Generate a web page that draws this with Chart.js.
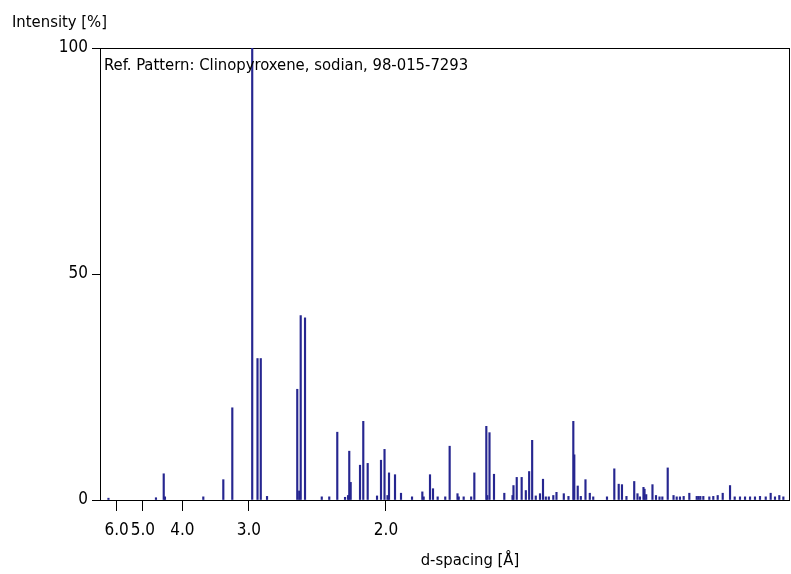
<!DOCTYPE html>
<html>
<head>
<meta charset="utf-8">
<script src="https://cdn.jsdelivr.net/npm/chart.js@4/dist/chart.umd.min.js"></script>
<style>
  html, body { margin: 0; padding: 0; background: #fff; }
  #wrap { width: 791px; height: 574px; }
</style>
</head>
<body>
<div id="wrap"><canvas id="chart-ref-pattern" width="791" height="574"></canvas></div>
<script>
// reference pattern sticks, position in degrees 2theta (Cu K-alpha) and relative intensity
const peak2Theta = [
  13.82, 19.21, 20.09, 20.23, 24.58, 26.85, 27.87, 30.13, 30.73, 31.10,
  31.81, 35.24, 35.46, 35.63, 36.12, 38.02, 38.87, 39.78, 40.66, 41.00,
  41.14, 41.30, 42.36, 42.73, 43.23, 44.29, 44.74, 45.14, 45.48, 45.65,
  46.33, 47.01, 48.26, 49.43, 49.58, 50.30, 50.64, 51.17, 52.03, 52.53,
  53.42, 53.56, 54.12, 54.97, 55.33, 56.69, 56.80, 57.05, 57.56, 58.73,
  59.66, 59.77, 60.14, 60.70, 61.17, 61.55, 61.89, 62.30, 62.78, 63.12,
  63.44, 63.78, 64.29, 64.65, 65.48, 66.01, 66.56, 66.67, 67.06, 67.41,
  67.94, 68.43, 68.82, 70.38, 71.21, 71.71, 72.08, 72.59, 73.47, 73.84,
  74.12, 74.52, 74.64, 74.83, 75.54, 75.94, 76.34, 76.66, 77.27, 77.93,
  78.29, 78.66, 79.08, 79.72, 80.56, 80.76, 80.97, 81.31, 81.99, 82.44,
  82.94, 83.51, 84.34, 84.87, 85.47, 86.04, 86.61, 87.17, 87.74, 88.39,
  88.95, 89.44, 89.93, 90.39
];
const peakIntensity = [
  0.4, 0.5, 5.8, 0.7, 0.7, 4.5, 20.4, 100, 31.3, 31.3,
  0.8, 24.5, 2.0, 40.8, 40.3, 0.7, 0.7, 15.0, 0.6, 1.0,
  10.8, 3.9, 7.7, 17.4, 8.1, 0.9, 8.8, 11.2, 1.0, 6.0,
  5.6, 1.5, 0.7, 1.8, 0.7, 5.6, 2.5, 0.7, 0.7, 11.9,
  1.4, 0.7, 0.7, 0.7, 6.0, 16.3, 1.0, 14.9, 5.7, 1.5,
  1.0, 3.2, 5.0, 5.0, 2.1, 6.3, 13.2, 0.9, 1.4, 4.6,
  0.7, 0.7, 1.0, 1.7, 1.4, 0.8, 17.4, 10.0, 3.1, 0.8,
  4.5, 1.5, 0.7, 0.7, 6.9, 3.5, 3.4, 0.8, 4.1, 1.4,
  0.7, 2.8, 2.4, 1.2, 3.4, 1.0, 0.7, 0.7, 7.1, 1.0,
  0.7, 0.7, 0.8, 1.5, 0.8, 0.8, 0.8, 0.8, 0.7, 0.8,
  1.0, 1.5, 3.2, 0.7, 0.7, 0.7, 0.7, 0.7, 0.8, 0.7,
  1.5, 0.7, 1.0, 0.7
];

// d-spacing tick labels along the bottom axis
const dTicks = [6.0, 5.0, 4.0, 3.0, 2.0];
const dTickLabels = ["6.0", "5.0", "4.0", "3.0", "2.0"];
const yTicks = [0, 50, 100];

const patternName = "Ref. Pattern: Clinopyroxene, sodian, 98-015-7293";
const yCaption = "Intensity [%]";
const xCaption = "d-spacing [Å]";

const WAVELENGTH = 1.5406;
const X_MIN = 12.86;
const X_MAX = 91.03;
const FONT = '"DejaVu Sans Condensed", "Liberation Sans Narrow", sans-serif';

function braggAngle(d) {
  return (2 * Math.asin(WAVELENGTH / (2 * d)) * 180) / Math.PI;
}

// plain text captions: axis captions sit outside the usual title spots
const captions = {
  id: "captions",
  afterDraw(chart) {
    const ctx = chart.ctx;
    const area = chart.chartArea;
    ctx.save();
    ctx.fillStyle = "#000";
    ctx.font = "16.5px " + FONT;
    ctx.textBaseline = "alphabetic";
    ctx.textAlign = "left";
    ctx.fillText(yCaption, 12, 27);
    ctx.fillText(patternName, area.left + 4, area.top + 22);
    ctx.textAlign = "center";
    ctx.fillText(xCaption, 470, 565);
    ctx.restore();
  },
};

function createChartRefPattern() {
  var ctx = document.getElementById("chart-ref-pattern").getContext("2d");

  new Chart(ctx, {
    type: "bar",
    plugins: [captions],
    data: {
      datasets: [
        {
          label: patternName,
          data: peak2Theta.map((t, i) => ({ x: t, y: peakIntensity[i] })),
          backgroundColor: "#262690",
          borderWidth: 0,
          barThickness: 1.5,
          grouped: false,
        },
      ],
    },
    options: {
      responsive: false,
      animation: false,
      layout: {
        padding: { top: 48, right: 2, left: 0, bottom: 0 },
      },
      plugins: {
        legend: { display: false },
        tooltip: { enabled: false },
      },
      scales: {
        x: {
          type: "linear",
          position: "bottom",
          min: X_MIN,
          max: X_MAX,
          offset: false,
          afterBuildTicks(scale) {
            scale.ticks = dTicks.map((d) => ({ value: braggAngle(d) }));
          },
          afterFit(scale) {
            scale.height = 74;
          },
          grid: {
            display: true,
            offset: false,
            drawOnChartArea: false,
            drawTicks: true,
            tickLength: 11,
            color: "#000",
          },
          border: { display: true, color: "#000", width: 1 },
          ticks: {
            autoSkip: false,
            maxRotation: 0,
            padding: 9,
            color: "#000",
            font: { family: FONT, size: 17 },
            callback: function (value, index) {
              return dTickLabels[index];
            },
          },
        },
        xTop: {
          type: "linear",
          position: "top",
          min: X_MIN,
          max: X_MAX,
          afterFit(scale) {
            scale.height = 0;
          },
          grid: { display: false, drawTicks: false },
          border: { display: true, color: "#000", width: 1 },
          ticks: { display: false },
        },
        y: {
          position: "left",
          min: 0,
          max: 100,
          afterBuildTicks(scale) {
            scale.ticks = yTicks.map((v) => ({ value: v }));
          },
          afterFit(scale) {
            scale.width = 100;
          },
          grid: {
            display: true,
            drawOnChartArea: false,
            drawTicks: true,
            tickLength: 8,
            color: "#000",
          },
          border: { display: true, color: "#000", width: 1 },
          ticks: {
            padding: 4,
            color: "#000",
            font: { family: FONT, size: 17 },
          },
        },
        yRight: {
          position: "right",
          min: 0,
          max: 100,
          afterFit(scale) {
            scale.width = 0;
          },
          grid: { display: false, drawTicks: false },
          border: { display: true, color: "#000", width: 1 },
          ticks: { display: false },
        },
      },
    },
  });
}

createChartRefPattern();
</script>
</body>
</html>
